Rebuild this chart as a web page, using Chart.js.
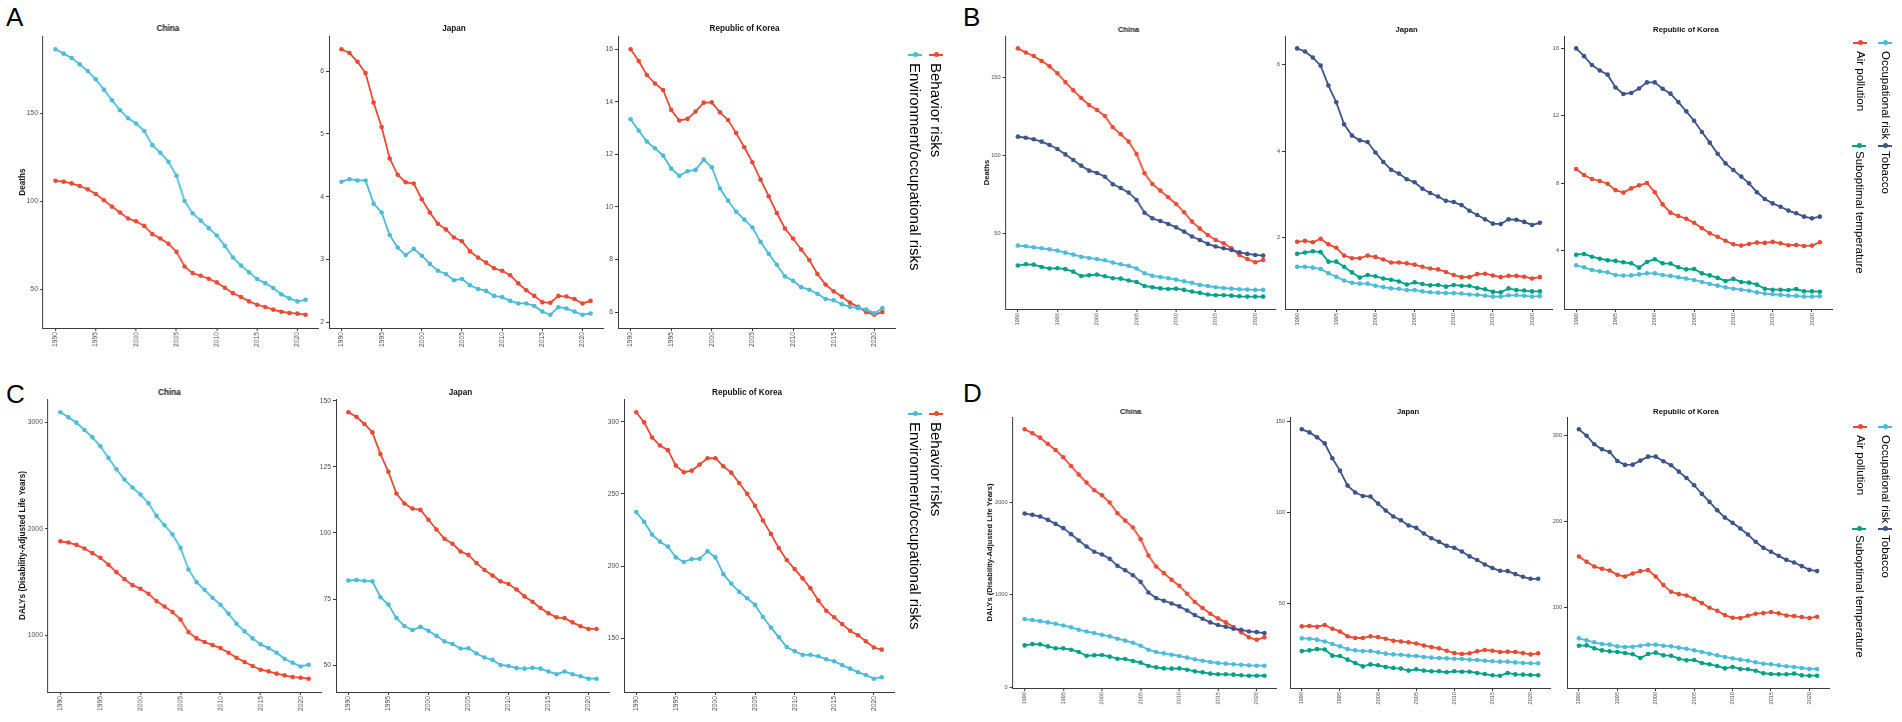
<!DOCTYPE html>
<html>
<head>
<meta charset="utf-8">
<title>Deaths and DALYs attributable to risks, 1990-2021</title>
<script src="https://cdn.jsdelivr.net/npm/chart.js@4.4.1/dist/chart.umd.min.js"></script>
<style>
  html, body { margin: 0; padding: 0; background: #fff; }
  #page { position: relative; width: 1902px; height: 722px; overflow: hidden; font-family: "Liberation Sans", Arial, sans-serif; }
  #page canvas { position: absolute; }
  .tag { position: absolute; font-size: 26px; line-height: 26px; color: #000; }
  .key { position: absolute; height: 1.6px; }
  .key i { position: absolute; left: 50%; top: 50%; width: 5px; height: 5px; margin: -2.5px 0 0 -2.5px; border-radius: 50%; background: inherit; }
  .lab { position: absolute; writing-mode: vertical-rl; white-space: nowrap; color: #000; line-height: 1.2; }
</style>
</head>
<body>
<div id="page">
  <div class="tag" style="left:6px;top:4px">A</div>
  <div class="tag" style="left:963px;top:4px">B</div>
  <div class="tag" style="left:6px;top:381px">C</div>
  <div class="tag" style="left:963px;top:380px">D</div>
</div>
<script>
const years = [1990, 1991, 1992, 1993, 1994, 1995, 1996, 1997, 1998, 1999, 2000, 2001, 2002, 2003, 2004, 2005,
               2006, 2007, 2008, 2009, 2010, 2011, 2012, 2013, 2014, 2015, 2016, 2017, 2018, 2019, 2020, 2021];
const yearTicks = [1990, 1995, 2000, 2005, 2010, 2015, 2020];
const countries = ['China', 'Japan', 'Republic of Korea'];
const riskGroups = ['Behavior risks', 'Environment/occupational risks'];
const riskFactors = ['Air pollution', 'Occupational risk', 'Suboptimal temperature', 'Tobacco'];

// A - deaths by risk group
const aChinaBehavior = [111.7, 111.2, 110.2, 108.7, 106.8, 104.2, 100.6, 97.0, 93.6, 90.2, 88.6, 86.0, 81.3, 78.8, 75.8, 71.2, 62.9, 59.1, 57.6, 55.9, 53.8, 50.8, 47.7, 45.5, 43.0, 41.1, 39.8, 38.3, 37.1, 36.4, 36.0, 35.4];
const aChinaEnv = [186.6, 184.1, 181.6, 178.0, 174.2, 169.5, 163.6, 157.6, 151.9, 147.3, 144.3, 140.0, 132.0, 127.7, 122.5, 114.6, 100.2, 93.2, 89.0, 84.7, 80.5, 74.6, 68.0, 63.4, 59.5, 55.7, 53.4, 50.6, 47.0, 44.7, 43.0, 43.9];
const aJapanBehavior = [6.35, 6.29, 6.15, 5.97, 5.50, 5.11, 4.61, 4.35, 4.23, 4.21, 3.96, 3.75, 3.57, 3.48, 3.35, 3.29, 3.13, 3.03, 2.95, 2.86, 2.82, 2.75, 2.62, 2.51, 2.42, 2.32, 2.31, 2.42, 2.41, 2.37, 2.30, 2.34];
const aJapanEnv = [4.24, 4.28, 4.26, 4.26, 3.89, 3.75, 3.39, 3.19, 3.07, 3.17, 3.06, 2.93, 2.82, 2.77, 2.67, 2.69, 2.59, 2.53, 2.50, 2.42, 2.40, 2.34, 2.30, 2.30, 2.26, 2.17, 2.12, 2.24, 2.22, 2.17, 2.12, 2.14];
const aKoreaBehavior = [16.0, 15.55, 15.02, 14.70, 14.45, 13.69, 13.29, 13.35, 13.63, 13.97, 13.98, 13.60, 13.31, 12.81, 12.27, 11.70, 11.04, 10.41, 9.77, 9.18, 8.80, 8.38, 7.98, 7.45, 7.05, 6.79, 6.59, 6.36, 6.20, 6.00, 5.90, 6.00];
const aKoreaEnv = [13.34, 12.91, 12.49, 12.23, 11.96, 11.46, 11.19, 11.36, 11.41, 11.80, 11.51, 10.70, 10.24, 9.82, 9.52, 9.22, 8.67, 8.22, 7.80, 7.36, 7.19, 6.95, 6.85, 6.70, 6.50, 6.45, 6.30, 6.20, 6.15, 6.10, 5.95, 6.15];

// B - deaths by risk factor
const bChinaAir = [168.6, 166.0, 163.7, 160.5, 157.1, 152.6, 147.0, 141.7, 136.8, 132.3, 129.1, 125.2, 118.0, 113.5, 108.8, 100.9, 88.5, 81.6, 77.4, 73.1, 68.8, 63.5, 57.5, 53.0, 48.9, 45.7, 43.6, 40.4, 36.1, 33.5, 31.4, 32.9];
const bChinaOcc = [42.1, 41.7, 41.0, 40.4, 39.7, 38.9, 37.6, 36.3, 35.0, 34.2, 33.5, 32.7, 31.2, 30.1, 29.1, 27.4, 24.4, 22.7, 22.0, 21.2, 20.3, 19.2, 18.2, 16.9, 16.2, 15.4, 14.9, 14.5, 14.1, 13.9, 13.7, 13.7];
const bChinaTemp = [29.3, 30.1, 29.9, 28.4, 27.4, 27.6, 27.0, 25.4, 22.6, 23.1, 23.5, 22.4, 21.2, 20.9, 19.7, 18.8, 16.2, 15.4, 14.7, 14.3, 14.5, 13.7, 12.6, 11.8, 10.7, 10.3, 10.3, 10.0, 9.6, 9.4, 9.4, 9.4];
const bChinaTobacco = [112.0, 111.3, 110.3, 108.8, 106.6, 104.1, 100.6, 97.0, 93.4, 90.2, 88.7, 86.3, 81.4, 79.1, 76.1, 71.4, 63.2, 59.6, 57.9, 56.0, 53.8, 51.1, 47.9, 45.7, 43.2, 41.5, 40.4, 39.3, 37.8, 36.8, 36.1, 35.7];
const bJapanAir = [1.90, 1.92, 1.89, 1.97, 1.84, 1.76, 1.58, 1.52, 1.52, 1.58, 1.55, 1.49, 1.42, 1.42, 1.40, 1.37, 1.32, 1.28, 1.26, 1.20, 1.13, 1.08, 1.08, 1.15, 1.16, 1.12, 1.08, 1.11, 1.11, 1.09, 1.05, 1.08];
const bJapanOcc = [1.32, 1.32, 1.30, 1.27, 1.17, 1.09, 1.00, 0.95, 0.93, 0.93, 0.88, 0.85, 0.82, 0.81, 0.78, 0.78, 0.75, 0.73, 0.72, 0.71, 0.71, 0.70, 0.68, 0.67, 0.65, 0.63, 0.63, 0.66, 0.66, 0.65, 0.63, 0.64];
const bJapanTemp = [1.62, 1.65, 1.68, 1.66, 1.44, 1.44, 1.32, 1.19, 1.07, 1.13, 1.10, 1.05, 1.02, 0.98, 0.91, 0.96, 0.92, 0.89, 0.90, 0.86, 0.90, 0.88, 0.88, 0.83, 0.80, 0.74, 0.73, 0.82, 0.78, 0.77, 0.75, 0.75];
const bJapanTobacco = [6.38, 6.31, 6.17, 5.98, 5.52, 5.13, 4.62, 4.36, 4.25, 4.21, 3.97, 3.75, 3.57, 3.48, 3.35, 3.28, 3.13, 3.03, 2.95, 2.85, 2.82, 2.75, 2.62, 2.52, 2.42, 2.32, 2.31, 2.42, 2.41, 2.36, 2.29, 2.34];
const bKoreaAir = [8.83, 8.48, 8.24, 8.12, 7.96, 7.58, 7.43, 7.68, 7.86, 8.00, 7.45, 6.73, 6.24, 6.04, 5.88, 5.64, 5.31, 5.01, 4.81, 4.57, 4.36, 4.28, 4.38, 4.46, 4.44, 4.50, 4.42, 4.30, 4.32, 4.26, 4.28, 4.48];
const bKoreaOcc = [3.11, 2.99, 2.83, 2.75, 2.69, 2.53, 2.50, 2.51, 2.57, 2.63, 2.63, 2.53, 2.48, 2.40, 2.32, 2.24, 2.12, 2.00, 1.90, 1.80, 1.72, 1.66, 1.60, 1.50, 1.43, 1.39, 1.35, 1.31, 1.29, 1.25, 1.25, 1.27];
const bKoreaTemp = [3.74, 3.78, 3.62, 3.50, 3.41, 3.37, 3.29, 3.23, 2.97, 3.31, 3.47, 3.23, 3.21, 2.99, 2.87, 2.89, 2.63, 2.51, 2.36, 2.18, 2.30, 2.12, 2.08, 1.96, 1.72, 1.66, 1.66, 1.64, 1.70, 1.56, 1.56, 1.54];
const bKoreaTobacco = [16.0, 15.54, 15.01, 14.69, 14.44, 13.68, 13.29, 13.35, 13.62, 13.98, 13.98, 13.60, 13.31, 12.81, 12.26, 11.70, 11.03, 10.40, 9.74, 9.17, 8.77, 8.38, 7.98, 7.45, 7.05, 6.79, 6.59, 6.36, 6.20, 6.00, 5.90, 6.00];

// C - DALYs by risk group
const cChinaBehavior = [1884, 1872, 1850, 1816, 1772, 1728, 1663, 1594, 1528, 1472, 1438, 1391, 1322, 1272, 1219, 1150, 1031, 972, 938, 909, 881, 838, 791, 750, 713, 678, 663, 641, 625, 609, 603, 594];
const cChinaEnv = [3094, 3047, 2997, 2928, 2859, 2775, 2666, 2559, 2463, 2388, 2322, 2241, 2122, 2034, 1947, 1822, 1619, 1500, 1428, 1353, 1288, 1203, 1109, 1038, 972, 916, 881, 838, 781, 744, 709, 725];
const cJapanBehavior = [145.6, 143.9, 141.2, 138.0, 129.8, 123.1, 114.9, 111.1, 109.2, 108.7, 105.0, 101.3, 97.8, 95.9, 93.0, 91.7, 88.6, 86.0, 83.9, 81.7, 80.7, 78.6, 76.0, 74.0, 71.6, 69.6, 68.1, 67.8, 66.2, 64.7, 63.7, 63.7];
const cJapanEnv = [82.0, 82.2, 81.9, 81.7, 75.7, 72.9, 67.8, 64.8, 63.3, 64.5, 63.0, 61.1, 59.0, 58.0, 56.3, 56.4, 54.4, 52.9, 52.0, 50.1, 49.7, 48.9, 48.7, 49.0, 48.7, 47.6, 46.6, 47.6, 46.6, 45.8, 44.9, 44.9];
const cKoreaBehavior = [306.5, 299.5, 289.1, 283.5, 280.3, 269.6, 265.0, 266.1, 270.3, 274.7, 274.7, 269.1, 264.7, 257.5, 250.1, 241.8, 231.6, 222.3, 212.5, 204.2, 197.9, 191.5, 184.6, 176.1, 169.1, 164.5, 159.8, 155.2, 152.1, 147.9, 143.6, 142.1];
const cKoreaEnv = [237.4, 230.6, 221.8, 216.9, 213.5, 206.0, 202.8, 204.9, 205.1, 210.2, 206.0, 194.4, 187.9, 182.1, 177.7, 173.1, 164.7, 157.5, 150.8, 143.9, 141.1, 138.5, 138.5, 137.5, 135.5, 134.0, 131.5, 129.0, 126.5, 124.5, 122.0, 123.0];

// D - DALYs by risk factor
const dChinaAir = [2793, 2750, 2703, 2634, 2569, 2490, 2396, 2303, 2216, 2133, 2079, 2000, 1885, 1805, 1730, 1604, 1427, 1308, 1236, 1164, 1099, 1013, 923, 858, 796, 746, 703, 652, 595, 541, 515, 541];
const dChinaOcc = [739, 728, 717, 703, 688, 670, 649, 623, 605, 587, 569, 551, 526, 505, 483, 450, 407, 382, 368, 353, 339, 321, 303, 288, 274, 263, 256, 249, 245, 238, 234, 234];
const dChinaTemp = [454, 468, 465, 443, 422, 422, 407, 382, 342, 346, 350, 332, 310, 306, 285, 267, 231, 216, 205, 202, 205, 191, 173, 162, 148, 141, 141, 137, 130, 126, 126, 126];
const dChinaTobacco = [1881, 1867, 1849, 1813, 1769, 1723, 1658, 1589, 1524, 1467, 1438, 1391, 1315, 1268, 1214, 1142, 1027, 966, 937, 908, 876, 832, 782, 742, 703, 674, 656, 634, 623, 605, 598, 587];
const dJapanAir = [37.6, 37.8, 37.4, 38.3, 36.3, 34.8, 32.1, 31.2, 31.2, 32.1, 31.7, 30.8, 29.7, 29.3, 28.8, 28.2, 27.1, 26.2, 25.5, 24.2, 22.9, 22.4, 22.8, 23.9, 24.6, 24.2, 23.5, 23.7, 23.5, 22.9, 22.2, 22.8];
const dJapanOcc = [31.0, 30.8, 30.3, 29.3, 27.9, 26.6, 25.1, 24.4, 24.0, 24.0, 23.3, 22.6, 22.2, 22.0, 21.5, 21.3, 20.8, 20.4, 20.2, 20.0, 19.8, 19.7, 19.3, 19.1, 18.7, 18.4, 18.2, 18.2, 17.8, 17.5, 17.3, 17.3];
const dJapanTemp = [24.0, 24.4, 25.1, 24.9, 21.5, 21.3, 19.3, 17.5, 15.6, 16.7, 16.2, 15.3, 14.7, 14.4, 13.3, 14.0, 13.3, 12.9, 12.9, 12.4, 12.9, 12.7, 12.7, 12.0, 11.4, 10.7, 10.5, 12.0, 11.2, 11.1, 10.9, 10.7];
const dJapanTobacco = [145.8, 144.1, 141.4, 138.1, 129.9, 123.1, 114.9, 111.1, 109.2, 108.9, 105.0, 101.2, 97.9, 95.9, 93.0, 91.7, 88.6, 86.0, 84.0, 81.8, 80.7, 78.7, 76.0, 74.0, 71.6, 69.6, 68.1, 67.9, 66.3, 64.8, 63.7, 63.7];
const dKoreaAir = [159.1, 152.9, 147.5, 144.8, 142.9, 137.8, 135.9, 139.4, 142.1, 143.2, 135.9, 125.9, 118.1, 115.4, 113.9, 110.0, 105.0, 99.6, 96.1, 91.1, 88.0, 87.6, 90.3, 92.7, 93.4, 94.6, 93.1, 90.7, 89.9, 88.8, 87.6, 89.2];
const dKoreaOcc = [64.1, 61.8, 59.5, 57.5, 56.8, 54.8, 54.1, 54.4, 55.6, 56.8, 56.8, 55.6, 54.8, 53.3, 52.1, 50.2, 48.3, 46.3, 44.4, 42.5, 40.9, 39.4, 38.2, 36.3, 34.7, 34.0, 32.8, 31.7, 30.9, 29.7, 28.6, 28.6];
const dKoreaTemp = [55.6, 56.0, 52.5, 50.2, 49.0, 48.3, 47.1, 45.6, 41.3, 45.9, 47.5, 44.4, 44.0, 40.5, 38.6, 39.0, 35.5, 34.0, 32.0, 29.3, 30.9, 28.6, 28.2, 26.6, 23.6, 22.8, 22.4, 22.4, 23.2, 21.2, 20.8, 20.8];
const dKoreaTobacco = [306.6, 299.2, 289.2, 283.4, 280.3, 269.9, 265.3, 265.6, 270.3, 274.9, 274.9, 269.5, 264.9, 257.5, 250.2, 241.7, 231.7, 222.4, 212.7, 204.2, 198.1, 191.5, 184.6, 176.1, 169.1, 164.5, 159.8, 155.2, 152.1, 147.9, 143.6, 142.1];

// y tick labels
const aTicks = [[50, 100, 150], [2, 3, 4, 5, 6], [6, 8, 10, 12, 14, 16]];
const bTicks = [[50, 100, 150], [2, 4, 6], [4, 8, 12, 16]];
const cTicks = [[1000, 2000, 3000], [50, 75, 100, 125, 150], [150, 200, 250, 300]];
const dTicks = [[0, 1000, 2000], [50, 100, 150], [100, 200, 300]];

const RED = '#E64B35', CYAN = '#4DBBD5', GREEN = '#00A087', NAVY = '#3C5488';
const groupColors = [RED, CYAN];
const factorColors = [RED, CYAN, GREEN, NAVY];
const FONT = '"Liberation Sans", Arial, sans-serif';
const AXIS = '#3a3a3a';

// page frames of each panel: [y-axis x, x-axis right end] per country, plot top / x-axis y
const frames = {
  A: { top: 36, bottom: 328, cols: [[43, 318], [329, 603], [618, 895]], titleGap: 7, yTitleX: 23, tick: 6.8, title: 8.2, yTitle: 8.2 },
  B: { top: 36, bottom: 309, cols: [[1006, 1275], [1285, 1552], [1564, 1832]], titleGap: 6, yTitleX: 987, tick: 5.6, title: 7.7, yTitle: 7.6 },
  C: { top: 399, bottom: 692, cols: [[48, 321], [336, 609], [624, 894]], titleGap: 6, yTitleX: 23, tick: 6.8, title: 8.2, yTitle: 8.2 },
  D: { top: 417, bottom: 688, cols: [[1013, 1276], [1290, 1550], [1567, 1829]], titleGap: 5, yTitleX: 990, tick: 5.6, title: 7.7, yTitle: 7.6 }
};

const panels = [
  { frame: 'A', yLabel: 'Deaths', colors: groupColors, ticks: aTicks,
    series: [[aChinaBehavior, aChinaEnv], [aJapanBehavior, aJapanEnv], [aKoreaBehavior, aKoreaEnv]] },
  { frame: 'B', yLabel: 'Deaths', colors: factorColors, ticks: bTicks,
    series: [[bChinaAir, bChinaOcc, bChinaTemp, bChinaTobacco], [bJapanAir, bJapanOcc, bJapanTemp, bJapanTobacco], [bKoreaAir, bKoreaOcc, bKoreaTemp, bKoreaTobacco]] },
  { frame: 'C', yLabel: 'DALYs (Disability-Adjusted Life Years)', colors: groupColors, ticks: cTicks,
    series: [[cChinaBehavior, cChinaEnv], [cJapanBehavior, cJapanEnv], [cKoreaBehavior, cKoreaEnv]] },
  { frame: 'D', yLabel: 'DALYs (Disability-Adjusted Life Years)', colors: factorColors, ticks: dTicks,
    series: [[dChinaAir, dChinaOcc, dChinaTemp, dChinaTobacco], [dJapanAir, dJapanOcc, dJapanTemp, dJapanTobacco], [dKoreaAir, dKoreaOcc, dKoreaTemp, dKoreaTobacco]] }
];

const page = document.getElementById('page');
const TOP_SPACE = 22, BOTTOM_SPACE = 24;

function addChart(f, col, yLabel, colors, tickValues, seriesList) {
  const [x0, x1] = f.cols[col];
  const first = col === 0;
  const yLh = f.yTitle * 1.2;
  const L = first ? x0 - (f.yTitleX - yLh / 2) : 24;
  const W = L + (x1 - x0) + L;
  const H = TOP_SPACE + (f.bottom - f.top) + BOTTOM_SPACE;
  const tLh = f.title * 1.2;
  const padB = f.titleGap - tLh / 2;

  const cv = document.createElement('canvas');
  cv.width = W; cv.height = H;
  cv.style.left = (x0 - L) + 'px';
  cv.style.top = (f.top - TOP_SPACE) + 'px';
  cv.style.width = W + 'px'; cv.style.height = H + 'px';
  page.appendChild(cv);

  const all = seriesList.flat();
  const lo = Math.min(...all), hi = Math.max(...all), pad = (hi - lo) * 0.05;
  const tickFont = { family: FONT, size: f.tick };

  new Chart(cv, {
    type: 'line',
    data: {
      datasets: seriesList.map((vals, i) => ({
        data: vals.map((v, k) => ({ x: years[k], y: v })),
        borderColor: colors[i], backgroundColor: colors[i], pointBackgroundColor: colors[i],
        borderWidth: 1.8, pointRadius: 2.3, pointBorderWidth: 0, tension: 0, order: -i
      }))
    },
    options: {
      responsive: false, animation: false, events: [],
      layout: { padding: { left: 0, right: L, top: 0, bottom: 0 } },
      plugins: {
        legend: { display: false }, tooltip: { enabled: false },
        title: { display: true, text: countries[col], color: '#111',
                 font: { family: FONT, size: f.title, weight: 'bold' },
                 padding: { top: TOP_SPACE - tLh - padB, bottom: padB } }
      },
      scales: {
        x: {
          type: 'linear', bounds: 'data',
          min: years[0] - 31 * 0.05, max: years[years.length - 1] + 31 * 0.05,
          afterBuildTicks: s => { s.ticks = yearTicks.map(v => ({ value: v })); },
          afterFit: s => { s.height = BOTTOM_SPACE; },
          ticks: { autoSkip: false, minRotation: 90, maxRotation: 90, padding: 1, color: '#4d4d4d', font: tickFont, callback: v => String(v) },
          grid: { display: true, drawOnChartArea: false, drawTicks: true, tickLength: 3, color: AXIS, lineWidth: 1 },
          border: { display: true, color: AXIS, width: 1 }
        },
        y: {
          type: 'linear', bounds: 'data', min: lo - pad, max: hi + pad,
          afterBuildTicks: s => { s.ticks = tickValues.map(v => ({ value: v })); },
          afterFit: s => { s.width = L; },
          ticks: { autoSkip: false, padding: 2, color: '#4d4d4d', font: tickFont, callback: v => String(v) },
          grid: { display: true, drawOnChartArea: false, drawTicks: true, tickLength: 3, color: AXIS, lineWidth: 1 },
          border: { display: true, color: AXIS, width: 1 },
          title: { display: first, text: yLabel, color: '#111', padding: 0,
                   font: { family: FONT, size: f.yTitle, weight: 'bold' } }
        }
      }
    }
  });
}

panels.forEach(p => {
  const f = frames[p.frame];
  p.series.forEach((list, col) => addChart(f, col, p.yLabel, p.colors, p.ticks[col], list));
});

// legends: [key centre x, key y, text top] for each entry
const legends = [
  { names: riskGroups, colors: groupColors, size: 15, spots: [[936, 55, 63], [915, 55, 63]] },
  { names: riskFactors, colors: factorColors, size: 11.5, spots: [[1860, 43, 51], [1885, 43, 51], [1859, 146, 151], [1885, 146, 151]] },
  { names: riskGroups, colors: groupColors, size: 15, spots: [[936, 414, 422], [915, 414, 422]] },
  { names: riskFactors, colors: factorColors, size: 11.5, spots: [[1860, 427, 435], [1885, 427, 435], [1859, 529, 535], [1885, 529, 535]] }
];

legends.forEach(lg => {
  lg.names.forEach((name, i) => {
    const [cx, ky, ty] = lg.spots[i];
    const key = document.createElement('div');
    key.className = 'key';
    key.style.cssText = `left:${cx - 7}px;top:${ky - 0.8}px;width:14px;background:${lg.colors[i]}`;
    key.appendChild(document.createElement('i'));
    page.appendChild(key);
    const lab = document.createElement('div');
    lab.className = 'lab';
    lab.textContent = name;
    lab.style.cssText = `left:${cx - lg.size * 0.6}px;top:${ty}px;font-size:${lg.size}px`;
    page.appendChild(lab);
  });
});
</script>
</body>
</html>
